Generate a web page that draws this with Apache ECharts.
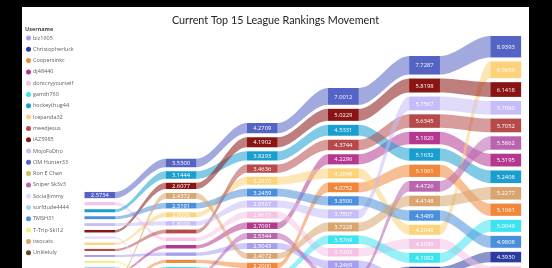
<!DOCTYPE html>
<html>
<head>
<meta charset="utf-8">
<script src="https://cdn.jsdelivr.net/npm/echarts@6/dist/echarts.min.js"></script>
<style>
html, body { margin: 0; padding: 0; background: #000; }
#frame { position: absolute; left: 0; top: 0; width: 552px; height: 268px; background: #000; overflow: hidden; }
#main { position: absolute; left: 22px; top: 7px; width: 507px; height: 261px; background: #fff; }
</style>
</head>
<body>
<div id="frame"><div id="main"></div></div>
<script>
// columns (weeks) of the ribbon chart
const weeks = ['W1', 'W2', 'W3', 'W4', 'W5', 'W6'];

const users = ['biz1605', 'Christopherluck', 'Coopersinkc', 'dj48440', 'dontcryyourself', 'gamth760',
  'hockeythug44', 'Icepanda32', 'meedjesus', 'IAZ5985', 'MojoFoDho', 'OM Hunter33', 'Ron E Chan',
  'Sniper Sk3v3', 'SocialJimmy', 'surfdude4444', 'TMSH31', 'T-Trip-Ski12', 'twocats', 'Unkleluly'];

const colors = ['#a79ef0', '#2b3a9e', '#f0883c', '#b4388f', '#f6c2e6', '#3fe3ef',
  '#199fcf', '#fcd27a', '#b64a4a', '#8a1414', '#c6bdf8', '#5563c4', '#d4bd5a',
  '#b864ae', '#e6dcfa', '#a9d3f3', '#4a8fdb', '#eef07a', '#d9a46e', '#6a4424'];

// ranking points per user, one value per week
const biz1605        = [0.82, 1.40, 2.5043, 3.2469, 2.40, 2.60];
const christopherluck = [0.67, 1.00, 1.50, 1.80, 2.60, 4.3930];
const coopersinkc    = [0.72, 1.30, 2.20, 4.0752, 5.1061, 5.1061];
const dj48440        = [0.74, 1.45, 2.7091, 4.2296, 5.1820, 5.3195];
const dontcryyourself = [1.30, 1.50, 2.8615, 3.5203, 4.2039, 3.00];
const gamth760       = [0.71, 1.25, 2.10, 3.5769, 4.1082, 5.0049];
const hockeythug44   = [1.25, 3.1444, 3.8293, 4.5331, 5.1632, 5.2408];
const icepanda32     = [0.91, 2.00, 3.2870, 4.2048, 4.2048, 6.9656];
const meedjesus      = [0.86, 1.60, 3.4636, 4.3744, 5.6345, 5.7052];
const iaz5985        = [1.04, 2.6077, 4.1902, 5.0229, 5.8198, 6.1418];
const mojoFoDho      = [1.17, 1.80, 2.9567, 3.7507, 5.7567, 5.7080];
const omHunter33     = [2.5734, 3.5300, 4.2709, 7.0012, 7.7287, 8.9393];
const ronEChan       = [0.66, 0.90, 0.76, 0.71, 0.93, 0.84];
const sniperSk3v3    = [0.69, 1.20, 2.5344, 2.00, 4.4726, 5.5862];
const socialJimmy    = [0.95, 0.90, 0.80, 0.74, 0.96, 0.87];
const surfdude4444   = [0.76, 0.90, 0.77, 0.72, 0.94, 0.85];
const tmsh31         = [1.21, 2.3191, 3.2459, 3.8500, 4.3489, 4.9808];
const tTripSki12     = [0.78, 0.90, 0.78, 0.73, 0.95, 0.86];
const twocats        = [0.73, 2.4372, 2.4072, 3.7228, 4.4148, 5.2277];
const unkleluly      = [0.64, 0.88, 0.75, 0.69, 0.91, 0.83];

const seriesValues = [biz1605, christopherluck, coopersinkc, dj48440, dontcryyourself, gamth760,
  hockeythug44, icepanda32, meedjesus, iaz5985, mojoFoDho, omHunter33, ronEChan,
  sniperSk3v3, socialJimmy, surfdude4444, tmsh31, tTripSki12, twocats, unkleluly];

const gapValue = 1.6667;   // space between stacked ribbons, in value units
const labelMin = 1.75;     // smaller bars get no label

// stack each week, highest value on top
const stacks = users.map(() => []);
weeks.forEach((w, c) => {
  const order = users.map((u, k) => k).sort((a, b) => seriesValues[a][c] - seriesValues[b][c]);
  let y = 0;
  order.forEach(k => {
    const v = seriesValues[k][c];
    stacks[k][c] = [y, y + v, v];
    y += v + gapValue;
  });
});

function ribbonItem(params, api) {
  const c = api.value(0);
  const a0 = api.coord([c, api.value(1)]);
  const a1 = api.coord([c, api.value(2)]);
  const b0 = api.coord([c + 1, api.value(3)]);
  const b1 = api.coord([c + 1, api.value(4)]);
  const half = api.size([1, 0])[0] * 0.19;
  const xs = a0[0] + half, xe = b0[0] - half;
  const top = [], bottom = [];
  for (let i = 0; i <= 24; i++) {
    const t = i / 24, e = t * t * (3 - 2 * t);
    const x = xs + (xe - xs) * t;
    top.push([x, a1[1] + (b1[1] - a1[1]) * e]);
    bottom.push([x, a0[1] + (b0[1] - a0[1]) * e]);
  }
  return {
    type: 'polygon',
    shape: { points: top.concat(bottom.reverse()) },
    style: { fill: api.visual('color'), opacity: 0.55 }
  };
}

function barItem(params, api) {
  const c = api.value(0);
  const p0 = api.coord([c, api.value(1)]);
  const p1 = api.coord([c, api.value(2)]);
  const half = api.size([1, 0])[0] * 0.19;
  const v = api.value(3);
  const children = [{
    type: 'rect',
    shape: { x: p0[0] - half, y: p1[1], width: half * 2, height: p0[1] - p1[1] },
    style: { fill: api.visual('color') }
  }];
  if (v >= labelMin) {
    children.push({
      type: 'text', x: p0[0], y: (p0[1] + p1[1]) / 2 + 0.5,
      style: { text: v.toFixed(4), fill: '#ffffff', fontSize: 5.8, fontFamily: 'Open Sans',
        align: 'center', verticalAlign: 'middle' }
    });
  }
  return { type: 'group', children };
}

const series = [];
users.forEach((name, k) => {
  const ribbons = [];
  for (let c = 0; c < weeks.length - 1; c++) {
    ribbons.push([c, stacks[k][c][0], stacks[k][c][1], stacks[k][c + 1][0], stacks[k][c + 1][1]]);
  }
  series.push({
    name, type: 'custom', z: 1, silent: true,
    itemStyle: { color: colors[k] },
    renderItem: ribbonItem,
    encode: { x: 0, y: [1, 2] },
    data: ribbons
  });
});
users.forEach((name, k) => {
  series.push({
    name, type: 'custom', z: 2, silent: true,
    itemStyle: { color: colors[k] },
    renderItem: barItem,
    encode: { x: 0, y: [1, 2] },
    data: stacks[k].map((s, c) => [c, s[0], s[1], s[2]])
  });
});

const chart = echarts.init(document.getElementById('main'));
chart.setOption({
  animation: false,
  title: [{
    text: 'Current Top 15 League Rankings Movement',
    left: 'center', top: 3,
    textStyle: { fontSize: 10.8, fontWeight: 'normal', color: '#252423', fontFamily: 'Lato' }
  }, {
    text: 'Username', left: 3, top: 19, padding: 0,
    textStyle: { fontSize: 5.5, fontWeight: 'bold', color: '#444', fontFamily: 'Open Sans' }
  }],
  legend: {
    orient: 'vertical', left: 4, top: 28, padding: 0,
    itemWidth: 5, itemHeight: 5, itemGap: 5.3,
    icon: 'circle',
    textStyle: { fontSize: 5.5, color: '#605e5c', fontFamily: 'Open Sans', padding: [0, 0, 0, -3] },
    data: users
  },
  grid: { left: 37.3, width: 487, top: 19, height: 288, outerBoundsMode: 'none', containLabel: false },
  xAxis: { type: 'category', data: weeks, show: false },
  yAxis: { type: 'value', min: 0, max: 120, show: false },
  series
});
</script>
</body>
</html>
